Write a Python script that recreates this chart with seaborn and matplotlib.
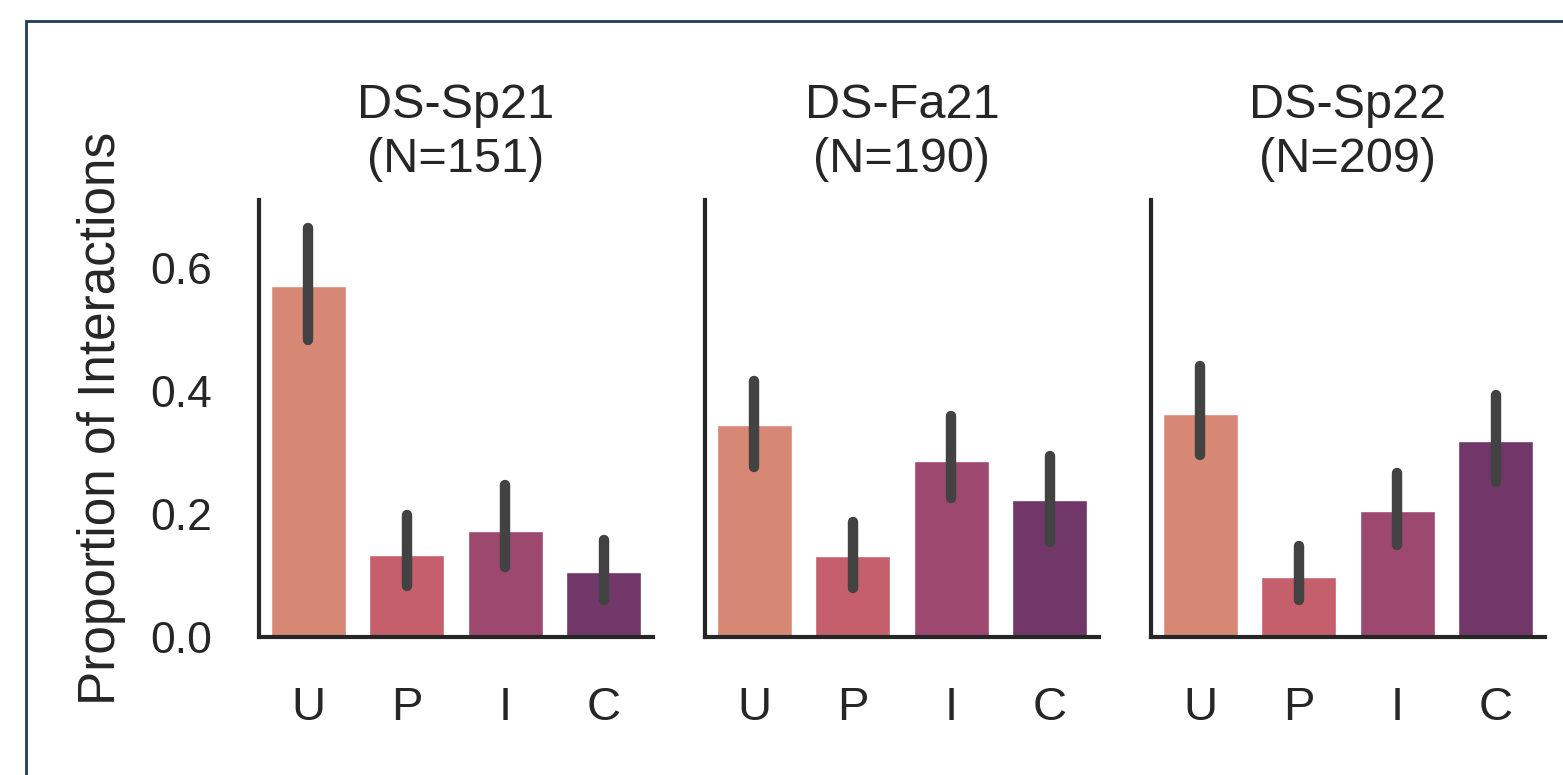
import matplotlib
matplotlib.use("Agg")
import matplotlib.pyplot as plt
import seaborn as sns
import pandas as pd
from matplotlib.patches import Rectangle

categories = ["U", "P", "I", "C"]
panels = ["DS-Sp21\n(N=151)", "DS-Fa21\n(N=190)", "DS-Sp22\n(N=209)"]
sp21_vals = [0.571, 0.133, 0.172, 0.106]
sp21_lo = [0.483, 0.083, 0.114, 0.060]
sp21_hi = [0.665, 0.198, 0.247, 0.158]
fa21_vals = [0.345, 0.132, 0.286, 0.223]
fa21_lo = [0.276, 0.080, 0.226, 0.154]
fa21_hi = [0.416, 0.187, 0.359, 0.294]
sp22_vals = [0.363, 0.098, 0.205, 0.319]
sp22_lo = [0.296, 0.060, 0.150, 0.252]
sp22_hi = [0.441, 0.148, 0.267, 0.393]

sns.set_theme(style="white")
plt.rcParams['font.family'] = ['Liberation Sans', 'DejaVu Sans']

fig = plt.figure(figsize=(15.63, 7.75), dpi=100)
W, H = 1563, 775
left_px = [259, 705, 1151]
width_px = 394
top_px, bottom_px = 200, 637

data = [(sp21_vals, sp21_lo, sp21_hi), (fa21_vals, fa21_lo, fa21_hi), (sp22_vals, sp22_lo, sp22_hi)]
palette = sns.color_palette("flare", 4)

for i, (title, (vals, lo, hi)) in enumerate(zip(panels, data)):
    ax = fig.add_axes([left_px[i] / W, 1 - bottom_px / H, width_px / W, (bottom_px - top_px) / H])
    df = pd.DataFrame({"cat": categories, "val": vals})
    sns.barplot(data=df, x="cat", y="val", hue="cat", palette=palette, legend=False,
                width=0.76, saturation=0.75, ax=ax, errorbar=None)
    ax.vlines(range(len(categories)), lo, hi, color="#424242", linewidth=7.5, capstyle="round", zorder=5)
    ax.set_xlim(-0.5, 3.5)
    ax.set_ylim(0, 0.71)
    ax.set_title(title, fontsize=35, pad=20, linespacing=1.27)
    ax.set_xlabel("")
    ax.tick_params(axis="x", labelsize=34, pad=35, length=0)
    ax.tick_params(axis="y", labelsize=32, pad=34, length=0)
    for s in ["top", "right"]:
        ax.spines[s].set_visible(False)
    for s in ["left", "bottom"]:
        ax.spines[s].set_linewidth(3)
        ax.spines[s].set_color("#262626")
    ax.set_yticks([0.0, 0.2, 0.4, 0.6])
    if i == 0:
        ax.set_ylabel("Proportion of Interactions", fontsize=37, labelpad=17)
        ax.set_yticklabels(["0.0", "0.2", "0.4", "0.6"])
    else:
        ax.set_ylabel("")
        ax.set_yticklabels([])

fig.patches.append(Rectangle((26 / W, -1), 3, 1 - 21 / H + 1, transform=fig.transFigure,
                             fill=False, edgecolor="#1f3b5c", linewidth=2, zorder=10))

fig.savefig("out.png", dpi=100)
